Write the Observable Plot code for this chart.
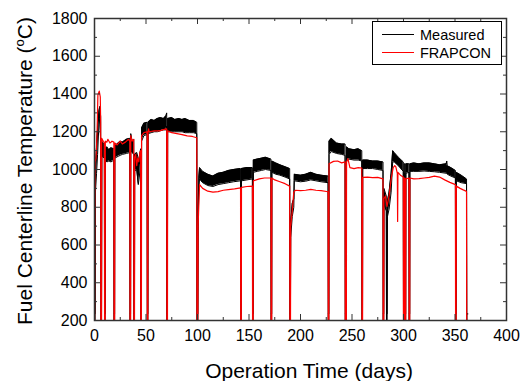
<!DOCTYPE html>
<html><head><meta charset="utf-8">
<script src="https://cdn.jsdelivr.net/npm/d3@7"></script>
<script src="https://cdn.jsdelivr.net/npm/@observablehq/plot@0.6"></script>
<style>
body{margin:0;background:#fff;}
#wrap{position:relative;width:526px;height:381px;font-family:"Liberation Sans",Arial,sans-serif;color:#000;}
#ytitle{position:absolute;left:24px;top:171px;transform:translate(-50%,-50%) rotate(-90deg);font-size:21px;white-space:nowrap;line-height:1;}
#ytitle sup{font-size:13px;vertical-align:0;position:relative;top:-8px;}
#xtitle{position:absolute;left:309px;top:370px;transform:translate(-50%,-50%);font-size:21px;white-space:nowrap;line-height:1;}
#legend{position:absolute;left:372px;top:21px;width:128px;height:42px;border:1px solid #000;background:#fff;font-size:14.5px;}
.lrow{position:absolute;left:0;height:18px;width:128px;}
.lline{position:absolute;left:9px;top:8px;width:32px;height:0;border-top:1.3px solid #000;}
.ltext{position:absolute;left:47px;top:0;line-height:18px;}
</style></head>
<body><div id="wrap"></div>
<script>
// ---- data ----
// FRAPCON prediction: [day, temperature °C]; 0 marks a shutdown (below axis)
const frapcon = [
[0,0],[0.5,1040],[1.5,1060],[2.5,1200],[3.3,1395],[4.6,1415],[5.6,1385],[6.0,1250],[6.2,0],[6.8,0],
[7.0,1165],[8.5,1150],[9.6,1140],[9.8,0],[10.3,0],[10.5,1150],[12,1145],[13,1160],[15,1140],[17,1150],[18.8,1145],
[19.0,0],[19.5,0],[19.7,1140],[22,1130],[25,1150],[27,1135],[30,1145],[33,1160],[34.3,1150],[34.5,0],[35,0],
[35.2,1180],[36.5,1150],[38.1,1160],[38.3,0],[38.8,0],[39,1060],[40,1080],[41,1020],[42,1060],[43,1040],[44,1090],[44.8,1100],
[45,0],[45.5,0],[45.7,1180],[48,1195],[51.1,1200],[51.3,0],[51.8,0],[52,1200],[52.5,1215],[53,1200],[58,1205],[63,1205],
[69.5,1215],[70.1,1215],[70.3,0],[70.8,0],[71,1205],[75,1195],[80,1190],[85,1185],[90,1178],[95,1175],[99.3,1168],
[99.5,0],[100.3,0],[100.6,700],[101.2,800],[102,920],[105,900],[110,885],[115,880],[120,883],[125,890],[130,893],[136,897],[141.8,903],
[142,0],[142.5,0],[142.7,905],[148,910],[153.3,912],[153.5,0],[154,0],[154.2,940],[160,950],[165,955],[171.3,955],
[171.5,0],[172,0],[172.2,955],[175,945],[180,935],[185,925],[189.5,912],[189.7,0],[190.2,0],[190.5,700],[192,780],[193.5,880],
[195,890],[200,888],[205,890],[210,895],[215,890],[220,888],[226.8,882],[227,0],[227.5,0],[227.7,1030],[232,1043],[236,1045],[240,1035],[243.3,1040],
[243.5,0],[244.5,0],[244.7,1040],[246,1058],[248,1010],[252,1005],[256,1010],[259.5,1008],[259.7,0],[260.2,0],
[260.4,958],[265,960],[270,957],[275,958],[280.1,950],[280.3,0],[280.8,0],[281,845],[282.5,860],[284,805],[286,860],[288,950],
[290,1010],[291.5,1020],[292.5,1015],[294,980],[294.3,725],[294.6,985],[297,970],[299.8,960],[300,0],[300.5,0],[300.7,955],[301.4,955],
[301.6,0],[302.1,0],[302.3,950],[305.3,955],[305.5,0],[306,0],[306.2,955],[310,950],[315,952],[320,955],[325,958],[330,965],
[335,960],[340,945],[345,932],[350.4,920],[350.6,0],[351.1,0],[351.3,912],[355,900],[358,892],[361.2,884],[361.4,0],[363,0]
];
// Measured: [day, lower edge, upper edge] of the scattered thermocouple band
const measured = [
[0,150,235],[0.6,150,235],[0.9,880,1000],[2,980,1120],[3,1080,1220],[4.3,1240,1310],[5.2,1270,1335],[6,1150,1280],[6.3,150,235],[6.8,150,235],
[7.1,1070,1150],[9.6,1060,1130],[9.8,150,235],[10.3,150,235],[10.5,1050,1110],[12,1040,1120],[14,1045,1105],[16,1040,1115],[18.8,1050,1110],
[19,150,235],[19.5,150,235],[19.7,1060,1125],[23,1070,1140],[25,1075,1150],[27,1080,1145],[31,1085,1160],[34.3,1090,1165],[34.5,150,235],[35,150,235],
[35.2,1100,1190],[36.5,1090,1150],[38.1,1080,1160],[38.3,150,235],[38.8,150,235],[39,990,1080],[41,1000,1090],[42.5,920,1060],[43.5,960,1050],[44.8,1040,1110],
[45,150,235],[45.5,150,235],[45.7,1150,1220],[48,1180,1245],[51.1,1185,1250],[51.3,150,235],[51.8,150,235],[52,1190,1250],[55,1195,1265],[58,1200,1260],
[61,1200,1270],[64,1205,1275],[67,1210,1270],[69.5,1210,1285],[70.1,1230,1300],[70.3,150,235],[70.8,150,235],[71,1200,1270],[75,1200,1275],[78,1200,1265],
[82,1200,1270],[85,1200,1265],[88,1195,1270],[92,1195,1260],[96,1195,1260],[99.3,1190,1250],[99.5,150,235],[100.3,150,235],[100.6,700,790],[101.3,900,960],
[102,950,1010],[105,930,990],[110,915,975],[115,910,965],[120,920,980],[125,925,985],[130,930,995],[135,935,1000],[141.8,940,1005],[142,150,235],[142.5,150,235],
[142.7,940,1005],[148,945,1010],[153.3,950,1010],[153.5,150,235],[154,150,235],[154.2,985,1050],[158,990,1055],[162,995,1060],[166,1000,1065],[171.3,995,1055],
[171.5,150,235],[172,150,235],[172.2,985,1045],[176,975,1035],[180,970,1025],[185,960,1015],[189.5,950,1005],[189.7,150,235],[190.2,150,235],
[190.5,640,720],[192,750,820],[193.5,800,845],[194,940,975],[200,935,970],[205,938,975],[210,945,985],[215,940,975],[220,935,970],[226.8,930,965],
[227,150,235],[227.5,150,235],[227.7,1080,1150],[230,1095,1165],[235,1085,1140],[240,1080,1135],[243.3,1075,1135],[243.5,150,235],[244.5,150,235],
[244.7,1050,1120],[247,1055,1110],[252,1050,1105],[256,1050,1110],[259.5,1045,1100],[259.7,150,235],[260.2,150,235],[260.4,1005,1050],[265,1005,1050],
[270,1005,1045],[275,1000,1045],[280.1,995,1040],[280.3,150,235],[280.8,150,235],[281,820,900],[283.3,780,860],[283.5,150,235],[284.1,150,235],
[284.4,750,830],[286,790,880],[288,880,980],[289.5,1040,1100],[291,1040,1090],[295,1020,1065],[299.8,990,1040],[300,150,235],[300.5,150,235],
[300.7,980,1030],[301.4,980,1030],[301.6,150,235],[302.1,150,235],[302.3,980,1030],[305.3,985,1030],[305.5,150,235],[306,150,235],[306.2,990,1030],
[310,990,1035],[315,990,1030],[320,992,1035],[325,990,1035],[330,988,1030],[335,985,1025],[341.5,980,1030],[342,980,1045],[342.5,975,1020],[346,965,1010],
[350.4,955,995],[350.6,150,235],[351.1,150,235],[351.3,940,985],[356,930,970],[361.2,925,950],[361.4,150,235],[362.5,150,235]
];
const xTicks = [0,50,100,150,200,250,300,350,400];
const xMinor = [25,75,125,175,225,275,325,375];
const yTicks = [200,400,600,800,1000,1200,1400,1600,1800];
const yMinor = [300,500,700,900,1100,1300,1500,1700];
const seriesNames = ["Measured","FRAPCON"];
const seriesColors = ["#000000","#ff0000"];
const xLabel = "Operation Time (days)";

// ---- layout ----
const W = 526, H = 381, mL = 94, mR = 20, mT = 18, mB = 61;
const pw = W - mL - mR, ph = H - mT - mB;
const meas = measured.map(([day, lo, hi]) => ({day, lo, hi}));
const frap = frapcon.map(([day, temp]) => ({day, temp}));
const axisColor = "#333";

const chart = Plot.plot({
  width: W, height: H,
  marginLeft: mL, marginRight: mR, marginTop: mT, marginBottom: mB,
  x: {domain: [0, 400]},
  y: {domain: [200, 1800]},
  style: {fontFamily: '"Liberation Sans", Arial, sans-serif', fontSize: "16px", color: "#000", background: "#fff"},
  marks: [
    Plot.areaY(meas, {x: "day", y1: "lo", y2: "hi", fill: seriesColors[0], clip: true}),
    Plot.lineY(meas, {x: "day", y: "lo", stroke: seriesColors[0], strokeWidth: 1, clip: true}),
    Plot.lineY(meas, {x: "day", y: "hi", stroke: seriesColors[0], strokeWidth: 1, clip: true}),
    Plot.lineY(frap, {x: "day", y: "temp", stroke: seriesColors[1], strokeWidth: 1.2, clip: true}),
    // inward ticks on all four sides
    Plot.ruleX(xTicks, {x: d => d, insetTop: ph - 6, stroke: axisColor}),
    Plot.ruleX(xTicks, {x: d => d, insetBottom: ph - 6, stroke: axisColor}),
    Plot.ruleX(xMinor, {x: d => d, insetTop: ph - 3, stroke: axisColor}),
    Plot.ruleX(xMinor, {x: d => d, insetBottom: ph - 3, stroke: axisColor}),
    Plot.ruleY(yTicks, {y: d => d, insetRight: pw - 6, stroke: axisColor}),
    Plot.ruleY(yTicks, {y: d => d, insetLeft: pw - 6, stroke: axisColor}),
    Plot.ruleY(yMinor, {y: d => d, insetRight: pw - 3, stroke: axisColor}),
    Plot.ruleY(yMinor, {y: d => d, insetLeft: pw - 3, stroke: axisColor}),
    Plot.frame({stroke: axisColor, strokeWidth: 1.5}),
    Plot.axisX({ticks: xTicks, tickSize: 0, tickPadding: 9, tickFormat: d => String(d), label: null, fontSize: 16}),
    Plot.axisY({ticks: yTicks, tickSize: 0, tickPadding: 7, tickFormat: d => String(d), label: null, fontSize: 16})
  ]
});

const wrap = document.getElementById("wrap");
wrap.appendChild(chart);

const xt = document.createElement("div");
xt.id = "xtitle";
xt.textContent = xLabel;
wrap.appendChild(xt);

const yt = document.createElement("div");
yt.id = "ytitle";
yt.innerHTML = "Fuel Centerline Temperature (<sup>o</sup>C)";
wrap.appendChild(yt);

const lg = document.createElement("div");
lg.id = "legend";
seriesNames.forEach((name, i) => {
  const row = document.createElement("div");
  row.className = "lrow";
  row.style.top = (4 + i * 18) + "px";
  const ln = document.createElement("div");
  ln.className = "lline";
  ln.style.borderTopColor = seriesColors[i];
  const tx = document.createElement("div");
  tx.className = "ltext";
  tx.textContent = name;
  row.appendChild(ln); row.appendChild(tx);
  lg.appendChild(row);
});
wrap.appendChild(lg);
</script>
</body></html>
